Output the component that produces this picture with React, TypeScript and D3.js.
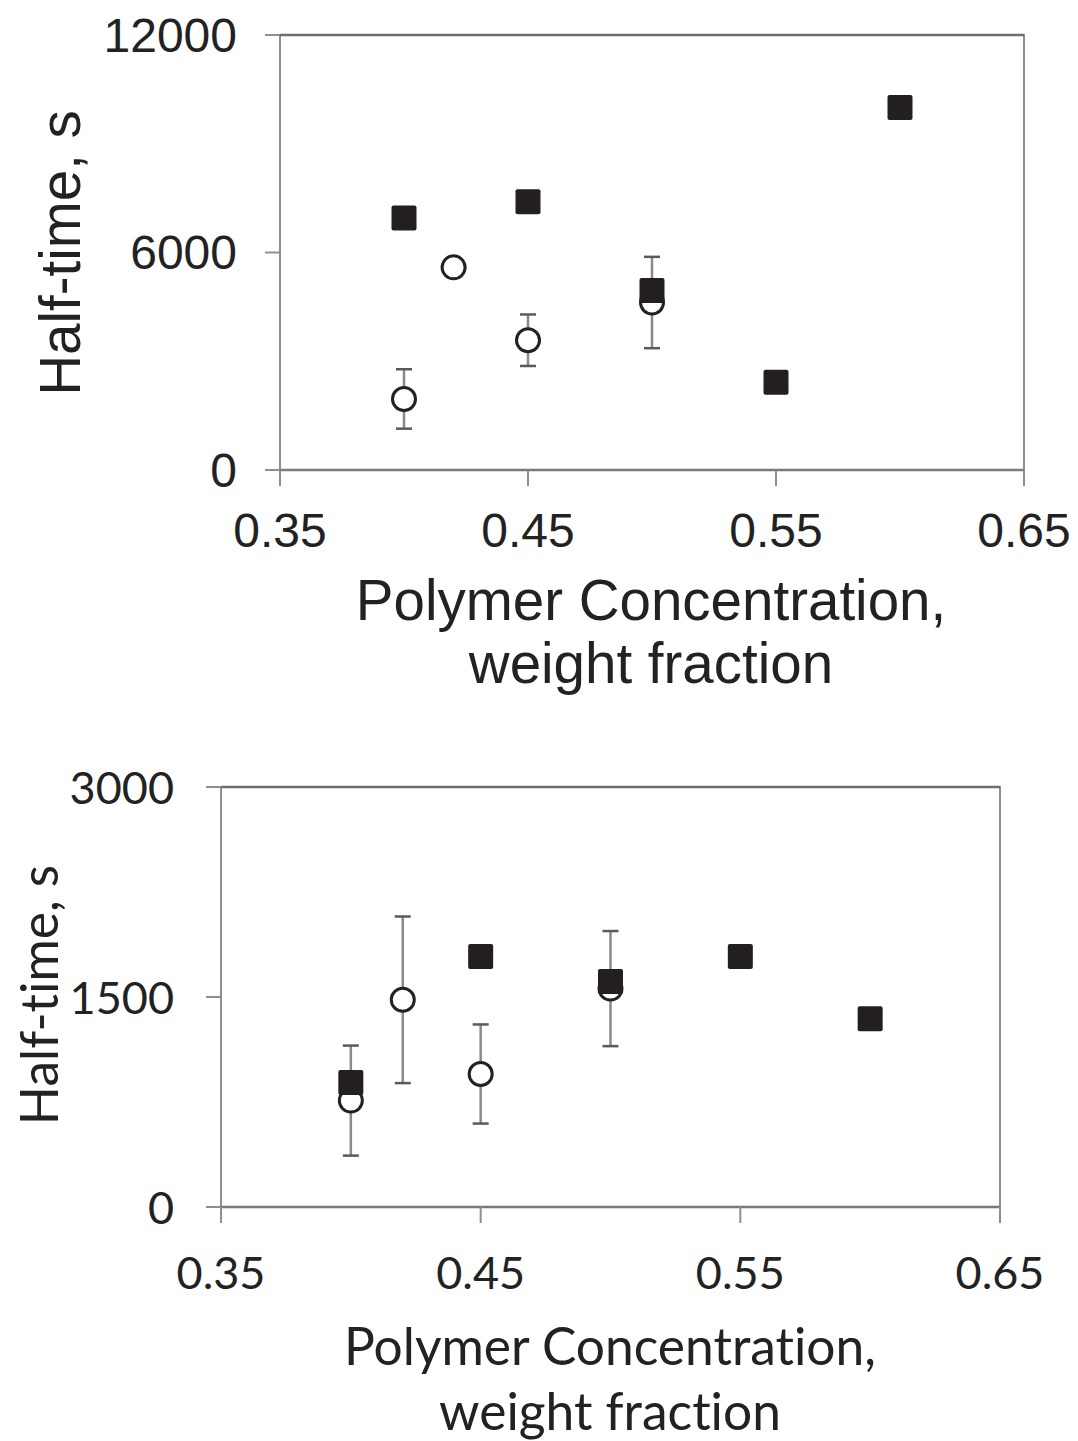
import React from "react";
import * as d3 from "d3";

// ---- Data ----
const xTicks = [0.35, 0.45, 0.55, 0.65];
const xTickLabels = ["0.35", "0.45", "0.55", "0.65"];

const topYTicks = [0, 6000, 12000];
const bottomYTicks = [0, 1500, 3000];

const squareX = [0.40, 0.45, 0.50, 0.55, 0.60];
const topSquareY = [6950, 7400, 4950, 2420, 10000];
const bottomSquareY = [890, 1790, 1610, 1790, 1345];

const circleX = [0.40, 0.42, 0.45, 0.50];
const topCircleY = [1960, 5590, 3580, 4620];
const topCircleErr = [820, 0, 710, 1260];
const bottomCircleY = [760, 1480, 950, 1560];
const bottomCircleErr = [393, 595, 354, 411];

const xTitle1 = "Polymer Concentration,";
const xTitle2 = "weight fraction";
const yTitle = "Half-time, s";

type PanelProps = {
  x0: number; x1: number; y0: number; y1: number;
  yMax: number; yTicks: number[];
  sqY: number[]; cY: number[]; cErr: number[];
  font: string; tickSize: number; titleSize: number;
  yLabelRight: number; xLabelY: number;
  yTitleX: number; yTitleY: number;
  xTitleX: number; xTitle1Y: number; xTitle2Y: number;
};

const noLig = { fontVariantLigatures: "none" as const, fontFeatureSettings: '"liga" 0, "clig" 0' };

function Panel(p: PanelProps) {
  const x = d3.scaleLinear().domain([0.35, 0.65]).range([p.x0, p.x1]);
  const y = d3.scaleLinear().domain([0, p.yMax]).range([p.y0, p.y1]);
  const axisColor = "#8e8e8e";
  const sq = 25;
  const r = 11.5;
  const cap = 8;
  return (
    <g style={noLig}>
      {/* frame */}
      <rect x={p.x0} y={p.y1} width={p.x1 - p.x0} height={p.y0 - p.y1}
        fill="none" stroke={axisColor} strokeWidth={2} />
      <line x1={p.x0} x2={p.x1} y1={p.y1} y2={p.y1} stroke="#6e6e6e" strokeWidth={2.5} />
      <line x1={p.x0} x2={p.x1} y1={p.y0} y2={p.y0} stroke="#7a7a7a" strokeWidth={2.5} />
      {/* y ticks */}
      {p.yTicks.map((t) => (
        <g key={"y" + t}>
          <line x1={p.x0 - 15} x2={p.x0} y1={y(t)} y2={y(t)} stroke={axisColor} strokeWidth={2} />
          <text x={p.yLabelRight} y={y(t)} textAnchor="end" dominantBaseline="central"
            fontFamily={p.font} fontSize={p.tickSize} fill="#222">{t}</text>
        </g>
      ))}
      {/* x ticks */}
      {xTicks.map((t, i) => (
        <g key={"x" + t}>
          <line x1={x(t)} x2={x(t)} y1={p.y0} y2={p.y0 + 16} stroke={axisColor} strokeWidth={2} />
          <text x={x(t)} y={p.xLabelY} textAnchor="middle" dominantBaseline="central"
            fontFamily={p.font} fontSize={p.tickSize} fill="#222">{xTickLabels[i]}</text>
        </g>
      ))}
      {/* titles */}
      <text transform={`translate(${p.yTitleX},${p.yTitleY}) rotate(-90)`} textAnchor="middle"
        dominantBaseline="central" fontFamily={p.font} fontSize={p.titleSize} fill="#222" style={noLig}>{yTitle}</text>
      <text x={p.xTitleX} y={p.xTitle1Y} textAnchor="middle" dominantBaseline="central"
        fontFamily={p.font} fontSize={p.titleSize} fill="#222" style={noLig}>{xTitle1}</text>
      <text x={p.xTitleX} y={p.xTitle2Y} textAnchor="middle" dominantBaseline="central"
        fontFamily={p.font} fontSize={p.titleSize} fill="#222" style={noLig}>{xTitle2}</text>
      {/* error bars */}
      {circleX.map((cx, i) =>
        p.cErr[i] > 0 ? (
          <g key={"e" + i} stroke="#5a5a5a" strokeWidth={2.5}>
            <line x1={x(cx)} x2={x(cx)} y1={y(p.cY[i] - p.cErr[i])} y2={y(p.cY[i] + p.cErr[i])} stroke="#8a8a8a" />
            <line x1={x(cx) - cap} x2={x(cx) + cap} y1={y(p.cY[i] - p.cErr[i])} y2={y(p.cY[i] - p.cErr[i])} />
            <line x1={x(cx) - cap} x2={x(cx) + cap} y1={y(p.cY[i] + p.cErr[i])} y2={y(p.cY[i] + p.cErr[i])} />
          </g>
        ) : null
      )}
      {/* circles */}
      {circleX.map((cx, i) => (
        <circle key={"c" + i} cx={x(cx)} cy={y(p.cY[i])} r={r} fill="#fff" stroke="#222" strokeWidth={3} />
      ))}
      {/* squares */}
      {squareX.map((sx, i) => (
        <rect key={"s" + i} x={x(sx) - sq / 2} y={y(p.sqY[i]) - sq / 2} width={sq} height={sq}
          rx={2} fill="#231f20" />
      ))}
    </g>
  );
}

export default function App() {
  return (
    <svg width={1078} height={1441} style={{ position: "absolute", left: 0, top: 0, background: "#fff" }}>
      <rect width={1078} height={1441} fill="#fff" />
      <Panel x0={280} x1={1024} y0={470} y1={35} yMax={12000} yTicks={topYTicks}
        sqY={topSquareY} cY={topCircleY} cErr={topCircleErr}
        font="'Liberation Sans', Arial, sans-serif" tickSize={48} titleSize={56.5}
        yLabelRight={237} xLabelY={530}
        yTitleX={60} yTitleY={253}
        xTitleX={651} xTitle1Y={600} xTitle2Y={663} />
      <Panel x0={221} x1={1000} y0={1207} y1={787} yMax={3000} yTicks={bottomYTicks}
        sqY={bottomSquareY} cY={bottomCircleY} cErr={bottomCircleErr}
        font="Lato, 'Open Sans', sans-serif" tickSize={45} titleSize={51.5}
        yLabelRight={174} xLabelY={1272}
        yTitleX={38} yTitleY={995}
        xTitleX={610} xTitle1Y={1345} xTitle2Y={1410} />
    </svg>
  );
}
